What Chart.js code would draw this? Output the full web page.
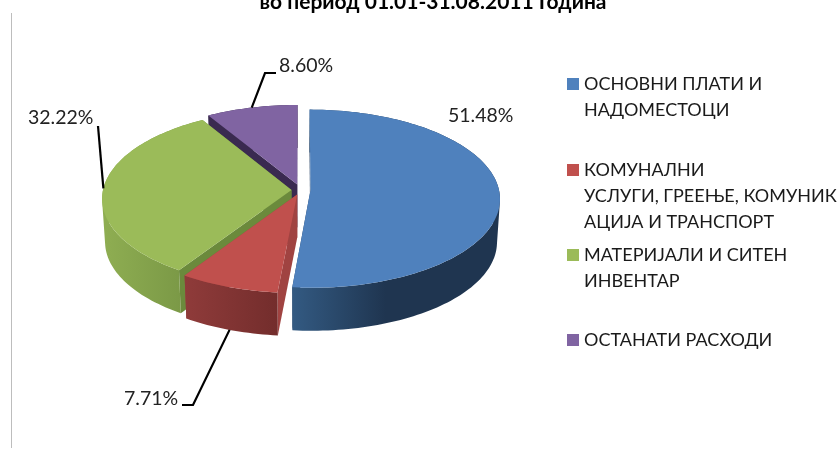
<!DOCTYPE html>
<html lang="mk">
<head>
  <meta charset="UTF-8">
  <title>Расходи</title>
  <script src="https://cdn.jsdelivr.net/npm/chart.js"></script>
  <style>
    html, body { margin: 0; padding: 0; background: #fff; overflow: hidden; }
    #wrap { position: relative; width: 840px; height: 449px; }
    #edge { position: absolute; left: 11px; top: 13px; bottom: 1px; width: 1px; background: #bdbdbd; }
  </style>
</head>
<body>
  <div id="wrap">
    <canvas id="pie" width="840" height="449"></canvas>
    <div id="edge"></div>
  </div>
  <script>
    const titleText = "во период 01.01-31.08.2011 Година";
    const categories = [
      ["ОСНОВНИ ПЛАТИ И", "НАДОМЕСТОЦИ"],
      ["КОМУНАЛНИ", "УСЛУГИ, ГРЕЕЊЕ, КОМУНИК", "АЦИЈА И ТРАНСПОРТ"],
      ["МАТЕРИЈАЛИ И СИТЕН", "ИНВЕНТАР"],
      ["ОСТАНАТИ РАСХОДИ"]
    ];
    const values = [51.48, 7.71, 32.22, 8.60];

    const topColors = ["#4f81bd", "#c0504d", "#9bbb59", "#8064a2"];
    const wallLeft = ["#335a82", "#8f3b3a", "#8fae52", "#3a2a50"];
    const wallRight = ["#1f3550", "#732d2c", "#759343", "#3a2a50"];
    const edgeColors = ["#2a4567", "#a04341", "#6b8a3c", "#3a2a50"];
    const sliceOffsets = [10, 10, 9, 12];
    const paintOrder = [3, 2, 1, 0];

    // label box: x of text, y of text middle, elbow of the leader line
    const labelBoxes = [
      { x: 448, y: 116 },
      { x: 124, y: 399, elbow: [193, 405], end: [182, 405], drop: true },
      { x: 28, y: 118, elbow: [98, 126] },
      { x: 279, y: 66, elbow: [265, 73], end: [276, 73] }
    ];
    const legendRows = [84, 170, 255, 340];
    const legendLine = 26;

    const font = "Lato, 'Open Sans', sans-serif";
    const tilt = 0.468;
    const persp = 0.095;
    const depth = 43;

    function project(arc, off, a, r, h) {
      const mid = (arc.startAngle + arc.endAngle) / 2;
      const wx = off * Math.cos(mid) + r * Math.cos(a);
      const wy = off * Math.sin(mid) + r * Math.sin(a);
      const s = 1 / (1 - persp * wy / arc.outerRadius);
      const shrink = h > 0 ? 0.985 : 1;
      return [arc.x + wx * s * shrink, arc.y - depth / 2 + h + wy * tilt * s];
    }

    function arcPoints(arc, off, h) {
      const pts = [];
      const n = Math.ceil((arc.endAngle - arc.startAngle) * 40);
      for (let i = 0; i <= n; i++) {
        const a = arc.startAngle + (arc.endAngle - arc.startAngle) * i / n;
        pts.push(project(arc, off, a, arc.outerRadius, h));
      }
      return pts;
    }

    function tracePoly(ctx, pts) {
      pts.forEach((p, i) => i ? ctx.lineTo(p[0], p[1]) : ctx.moveTo(p[0], p[1]));
      ctx.closePath();
    }

    function fillPoly(ctx, pts, color) {
      ctx.beginPath();
      tracePoly(ctx, pts);
      ctx.fillStyle = color;
      ctx.fill();
    }

    function polyArea(pts) {
      let sum = 0;
      pts.forEach((p, i) => {
        const q = pts[(i + 1) % pts.length];
        sum += p[0] * q[1] - q[0] * p[1];
      });
      return sum;
    }

    const pie3d = {
      id: "pie3d",
      beforeDatasetDraw(chart) {
        const ctx = chart.ctx;
        const arcs = chart.getDatasetMeta(0).data;
        paintOrder.forEach(i => {
          const arc = arcs[i];
          const off = arc.options.offset;
          const top = arcPoints(arc, off, 0);
          const low = arcPoints(arc, off, depth);
          const c0 = project(arc, off, 0, 0, 0);
          const c1 = project(arc, off, 0, 0, depth);
          // radial walls
          fillPoly(ctx, [c0, top[0], low[0], c1], edgeColors[i]);
          fillPoly(ctx, [c0, top[top.length - 1], low[low.length - 1], c1], edgeColors[i]);
          // outer wall: all quads in one path, same winding, so no seams show
          const xs = top.concat(low).map(p => p[0]);
          const grad = ctx.createLinearGradient(Math.min(...xs), 0, Math.max(...xs), 0);
          grad.addColorStop(0, wallLeft[i]);
          grad.addColorStop(i === 0 ? 0.45 : 1, wallRight[i]);
          grad.addColorStop(1, wallRight[i]);
          ctx.beginPath();
          for (let k = 0; k < top.length - 1; k++) {
            const quad = [top[k], top[k + 1], low[k + 1], low[k]];
            tracePoly(ctx, polyArea(quad) < 0 ? quad.reverse() : quad);
          }
          ctx.fillStyle = grad;
          ctx.fill();
          // top face
          fillPoly(ctx, [c0].concat(top), topColors[i]);
        });
        return false;
      },
      afterDatasetsDraw(chart) {
        const ctx = chart.ctx;
        const arcs = chart.getDatasetMeta(0).data;
        ctx.save();
        // leader lines
        ctx.strokeStyle = "#000";
        ctx.lineWidth = 2.2;
        labelBoxes.forEach((box, i) => {
          if (!box.elbow) return;
          const arc = arcs[i];
          const mid = (arc.startAngle + arc.endAngle) / 2;
          const p = project(arc, arc.options.offset, mid, arc.outerRadius, box.drop ? depth : 0);
          ctx.beginPath();
          ctx.moveTo(p[0], p[1]);
          ctx.lineTo(box.elbow[0], box.elbow[1]);
          if (box.end) ctx.lineTo(box.end[0], box.end[1]);
          ctx.stroke();
        });
        // value labels
        ctx.fillStyle = "#222";
        ctx.font = "19.5px " + font;
        ctx.textAlign = "left";
        ctx.textBaseline = "middle";
        labelBoxes.forEach((box, i) => {
          ctx.fillText(values[i].toFixed(2) + "%", box.x, box.y);
        });
        // legend
        ctx.font = "18px " + font;
        categories.forEach((lines, i) => {
          const y = legendRows[i];
          ctx.fillStyle = topColors[i];
          ctx.fillRect(567, y - 6, 12, 12);
          ctx.fillStyle = "#1a1a1a";
          lines.forEach((line, j) => ctx.fillText(line, 584, y + j * legendLine));
        });
        // title, cut by the top of the picture
        ctx.font = "bold 21px " + font;
        ctx.textAlign = "center";
        ctx.textBaseline = "alphabetic";
        ctx.fillStyle = "#000";
        ctx.fillText(titleText, 433, 9);
        ctx.restore();
      }
    };

    new Chart(document.getElementById("pie"), {
      type: "pie",
      data: {
        labels: categories.map(c => c.join(" ")),
        datasets: [{
          data: values,
          backgroundColor: topColors,
          borderWidth: 0,
          offset: sliceOffsets
        }]
      },
      options: {
        responsive: false,
        animation: false,
        events: [],
        layout: { padding: { left: 105, right: 344, top: 17, bottom: 43 } },
        plugins: { legend: { display: false }, tooltip: { enabled: false } }
      },
      plugins: [pie3d]
    });
  </script>
</body>
</html>
